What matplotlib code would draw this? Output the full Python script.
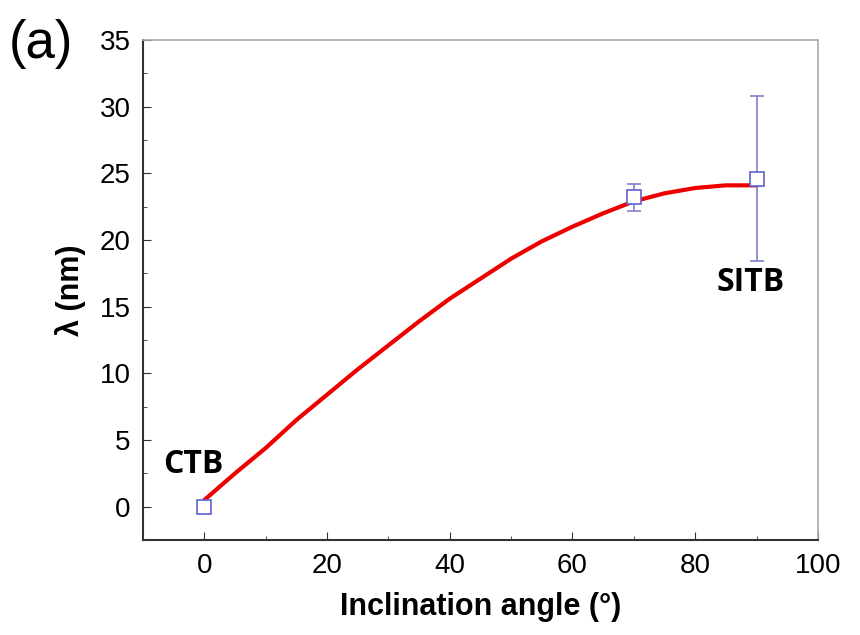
import numpy as np
import matplotlib
matplotlib.use("Agg")
from matplotlib import pyplot as plt
from matplotlib.ticker import MultipleLocator

# measured points
angle = [0, 70, 90]
lam = [0.0, 23.2, 24.6]
lam_err = [0.0, 1.0, 6.2]

# fitted curve
fit_x = [0, 5, 10, 15, 20, 25, 30, 35, 40, 45, 50, 55, 60, 65, 70, 75, 80, 85, 90]
fit_y = [0.5, 2.5, 4.4, 6.5, 8.4, 10.3, 12.1, 13.9, 15.6, 17.1, 18.6, 19.9,
         21.0, 22.0, 22.9, 23.5, 23.9, 24.1, 24.1]

plt.rcParams['font.family'] = ['Liberation Sans', 'DejaVu Sans']

fig = plt.figure(figsize=(8.6, 6.35), dpi=100)
ax = fig.add_axes([0.1663, 0.1496, 0.7847, 0.7874])

ax.plot(fit_x, fit_y, color='#ee0000', lw=3, zorder=2, solid_joinstyle='round')
ax.errorbar(angle, lam, yerr=lam_err, fmt='s', ms=10, mfc='white', mec='#6060d0',
            mew=1.2, ecolor='#8080c8', elinewidth=1.2, capsize=5, zorder=3)

ax.set_xlim(-10, 100)
ax.set_ylim(-2.5, 35)
ax.xaxis.set_major_locator(MultipleLocator(20))
ax.xaxis.set_minor_locator(MultipleLocator(10))
ax.yaxis.set_major_locator(MultipleLocator(5))
ax.yaxis.set_minor_locator(MultipleLocator(2.5))
ax.tick_params(which='both', direction='in', top=False, right=False, labelsize=20,
               color='#333333', pad=9)
ax.tick_params(which='major', length=6)
ax.tick_params(which='minor', length=3)

for s in ['left', 'bottom']:
    ax.spines[s].set_color('#333333')
    ax.spines[s].set_linewidth(1.5)
for s in ['top', 'right']:
    ax.spines[s].set_color('#aaaaaa')
    ax.spines[s].set_linewidth(1.2)

ax.set_xlabel('Inclination angle (°)', fontsize=22, fontweight='bold', labelpad=10)
ax.set_ylabel('λ (nm)', fontsize=22, fontweight='bold', labelpad=10)

ax.text(-6.8, 3.2, 'CTB', fontsize=23, fontweight='bold', family=['Open Sans', 'DejaVu Sans'],
        ha='left', va='center')
ax.text(89, 16.8, 'SITB', fontsize=23, fontweight='bold', family=['Open Sans', 'DejaVu Sans'],
        ha='center', va='center')

fig.text(0.01, 0.93, '(a)', fontsize=38, ha='left', va='center')

fig.savefig('out.png', dpi=100)
